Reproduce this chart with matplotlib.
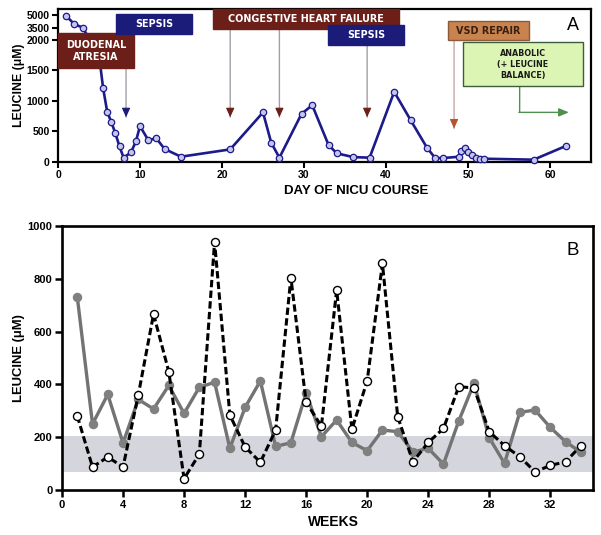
import numpy as np
import matplotlib.pyplot as plt
from matplotlib.patches import Rectangle

# Panel A: leucine over NICU days
dias = [1, 2, 3, 5, 5.5, 6, 6.5, 7, 7.5, 8, 8.9, 9.5, 10, 11, 12, 13, 15, 21, 25, 26, 27,
        29.7, 31, 33, 34, 36, 38, 41, 43, 45, 46, 47, 48.9, 49.2, 49.6, 50, 50.5, 51,
        51.5, 52, 58, 62]
leucina_a = [4900, 3900, 3500, 1750, 1210, 820, 650, 465, 250, 66, 153, 333, 585, 355, 383,
             208, 82, 202, 809, 312, 66, 785, 928, 273, 137, 76, 66, 1147, 683, 229, 60, 60,
             82, 180, 229, 164, 109, 55, 49, 49, 33, 262]

# Panel B: weekly leucine, two series
semanas = list(range(1, 35))
serie_gris = [732, 250, 362, 178, 343, 307, 396, 290, 389, 408, 158, 313, 413, 165, 179,
              368, 202, 265, 180, 149, 227, 221, 144, 158, 98, 261, 404, 198, 101, 294,
              303, 237, 183, 143]
serie_blanca = [281, 87, 125, 87, 360, 666, 448, 43, 136, 940, 284, 163, 105, 227, 804,
                332, 242, 757, 230, 413, 858, 278, 107, 180, 233, 391, 387, 221, 168, 126,
                69, 93, 107, 167]
banda = (70, 205)

plt.rcParams['font.family'] = ['Liberation Sans', 'DejaVu Sans']

fig = plt.figure(figsize=(6.01, 5.35), dpi=100)
axA = fig.add_axes([58/601, 1-161.7/535, 533/601, 152.7/535])
axB = fig.add_axes([62/601, 1-490/535, 531/601, 264/535])

# escala partida del eje Y (comprimida por encima de 2000)
R = 7.4
def fwd(y):
    y = np.asarray(y, dtype=float)
    return np.where(y <= 2000, y, 2000 + (y - 2000) / R)
def inv(f):
    f = np.asarray(f, dtype=float)
    return np.where(f <= 2000, f, 2000 + (f - 2000) * R)

axA.set_yscale('function', functions=(fwd, inv))
axA.plot(dias, leucina_a, '-o', color='#1d1a8a', lw=1.9, ms=4.6, mfc='#c4c4ec',
         mec='#1d1a8a', mew=0.9, clip_on=False, zorder=3)
axA.set_xlim(0, 65)
axA.set_ylim(0, 5750)
axA.set_xticks([0, 10, 20, 30, 40, 50, 60])
axA.set_yticks([0, 500, 1000, 1500, 2000, 3500, 5000])
axA.minorticks_off()
axA.tick_params(length=4, width=1.5, labelsize=7.5, pad=2)
for lab in axA.get_xticklabels() + axA.get_yticklabels():
    lab.set_fontweight('bold')
for s in axA.spines.values():
    s.set_linewidth(1.6)
axA.set_xlabel('DAY OF NICU COURSE', fontsize=9.5, fontweight='bold')
axA.xaxis.set_label_coords(0.56, -0.15)
axA.set_ylabel('LEUCINE (μM)', fontsize=8.8, fontweight='bold')
axA.yaxis.set_label_coords(-0.062, 0.5)
axA.text(0.967, 0.89, 'A', transform=axA.transAxes, fontsize=13, ha='center', va='center')

# cajas de eventos
def caja(ax, x0, x1, y0, y1, fc, ec, lineas, tc='white', fs=6.9):
    ax.add_patch(Rectangle((x0, y0), x1 - x0, y1 - y0, transform=ax.transAxes,
                           fc=fc, ec=ec, lw=1, clip_on=False, zorder=6))
    n = len(lineas)
    h = (y1 - y0)
    for i, t in enumerate(lineas):
        yy = y1 - h * (i + 1) / (n + 1)
        ax.text((x0 + x1) / 2, yy, t, transform=ax.transAxes, ha='center', va='center',
                color=tc, fontsize=fs, fontweight='bold', family='DejaVu Sans', zorder=7)

def flecha(ax, dia, y_punta, y_caja, color, gris='#a39fa8'):
    ax.annotate('', xy=(dia, y_punta), xytext=(dia, y_caja),
                xycoords='data', textcoords=('data', 'axes fraction'),
                arrowprops=dict(arrowstyle='-', color=gris, lw=1.0, shrinkA=0, shrinkB=0),
                zorder=2)
    ax.annotate('', xy=(dia, y_punta), xytext=(0, 6), textcoords='offset points',
                arrowprops=dict(arrowstyle='-|>,head_length=0.55,head_width=0.25',
                                color=color, lw=0.8, shrinkA=0, shrinkB=0), zorder=2)

maroon = '#6b1f18'
navy = '#1b1b7a'
flecha(axA, 8.3, 730, 0.84, navy)
flecha(axA, 21.0, 730, 0.87, maroon)
flecha(axA, 27.0, 730, 0.87, maroon)
flecha(axA, 37.7, 730, 0.77, maroon)
flecha(axA, 48.3, 545, 0.80, '#b5532f', gris='#c9a8a8')

caja(axA, 0.0, 0.143, 0.612, 0.842, maroon, maroon, ['DUODENAL', 'ATRESIA'])
caja(axA, 0.109, 0.251, 0.836, 0.967, navy, navy, ['SEPSIS'])
caja(axA, 0.291, 0.640, 0.868, 1.0, maroon, maroon, ['CONGESTIVE HEART FAILURE'])
caja(axA, 0.507, 0.649, 0.763, 0.895, navy, navy, ['SEPSIS'])
caja(axA, 0.732, 0.884, 0.796, 0.921, '#c9834f', '#8a5a3a', ['VSD REPAIR'], tc='#3a2010')

# flecha verde anabolica
verde = '#4f8f4f'
axA.annotate('', xy=(56.3, 810), xytext=(56.3, 0.493),
             xycoords='data', textcoords=('data', 'axes fraction'),
             arrowprops=dict(arrowstyle='-', color=verde, lw=1.0, shrinkA=0, shrinkB=0))
axA.annotate('', xy=(62.3, 810), xytext=(56.2, 810),
             arrowprops=dict(arrowstyle='-|>,head_length=0.6,head_width=0.25',
                             color=verde, lw=1.0, shrinkA=0, shrinkB=0))
caja(axA, 0.760, 0.985, 0.493, 0.783, '#dcf5b4', '#3c5c3c',
     ['ANABOLIC', '(+ LEUCINE', 'BALANCE)'], tc='#1a1a1a', fs=5.8)

# Panel B
axB.axhspan(banda[0], banda[1], color='#d5d5dd', lw=0, zorder=0)
axB.plot(semanas, serie_gris, '-o', color='#737373', lw=2.4, ms=5.8, mfc='#808080',
         mec='#808080', zorder=2)
axB.plot(semanas, serie_blanca, 'o', color='black', lw=2.2, ms=5.8, mfc='white',
         mec='black', mew=1.0, ls=(0, (2.4, 1.1)), zorder=3)
axB.set_xlim(0, 34.8)
axB.set_ylim(0, 1000)
axB.set_xticks(range(0, 33, 4))
axB.set_yticks(range(0, 1001, 200))
axB.tick_params(length=5, width=1.8, labelsize=8, pad=2)
for lab in axB.get_xticklabels() + axB.get_yticklabels():
    lab.set_fontweight('bold')
for s in axB.spines.values():
    s.set_linewidth(1.9)
axB.set_xlabel('WEEKS', fontsize=10, fontweight='bold')
axB.xaxis.set_label_coords(0.512, -0.095)
axB.set_ylabel('LEUCINE (μM)', fontsize=9.4, fontweight='bold')
axB.yaxis.set_label_coords(-0.07, 0.5)
axB.text(0.962, 0.907, 'B', transform=axB.transAxes, fontsize=13.5, ha='center', va='center')

fig.savefig('out.png', dpi=100)
